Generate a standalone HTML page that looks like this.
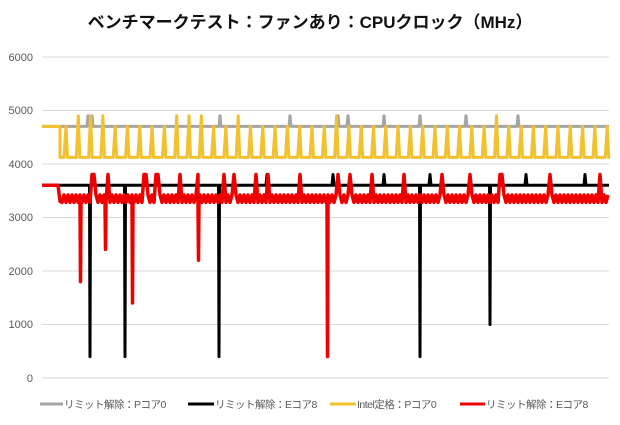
<!DOCTYPE html>
<html><head><meta charset="utf-8"><style>
body{margin:0;background:#fff;width:620px;height:420px;overflow:hidden;font-family:"Liberation Sans","Noto Sans CJK JP",sans-serif}
</style></head><body>
<svg id="s" width="620" height="420" xmlns="http://www.w3.org/2000/svg">
<text x="310" y="28" text-anchor="middle" font-size="17" font-weight="bold" fill="#111" font-family="Liberation Sans,Noto Sans CJK JP,sans-serif">ベンチマークテスト：ファンあり：CPUクロック（MHz）</text>
<g stroke="#d9d9d9" stroke-width="1">
<line x1="42" x2="609" y1="57" y2="57"/><line x1="42" x2="609" y1="110.5" y2="110.5"/><line x1="42" x2="609" y1="164" y2="164"/><line x1="42" x2="609" y1="217.5" y2="217.5"/><line x1="42" x2="609" y1="271" y2="271"/><line x1="42" x2="609" y1="324.5" y2="324.5"/><line x1="42" x2="609" y1="378" y2="378"/>
</g>
<g font-size="11" fill="#595959" text-anchor="end">
<text x="33" y="61">6000</text><text x="33" y="114">5000</text><text x="33" y="168">4000</text><text x="33" y="221">3000</text><text x="33" y="275">2000</text><text x="33" y="328">1000</text><text x="33" y="382">0</text>
</g>
<g id="series" fill="none" stroke-width="3" stroke-linejoin="round"></g>
<g font-size="10.5" fill="#595959" letter-spacing="-0.5">
<line x1="40" x2="63" y1="404" y2="404" stroke="#a5a5a5" stroke-width="3"/><text x="64" y="408">リミット解除：Pコア0</text>
<line x1="188" x2="214" y1="404" y2="404" stroke="#000" stroke-width="3"/><text x="215" y="408">リミット解除：Eコア8</text>
<line x1="330" x2="356" y1="404" y2="404" stroke="#f2c12e" stroke-width="3"/><text x="357" y="408">Intel定格：Pコア0</text>
<line x1="460" x2="485" y1="404" y2="404" stroke="#e00" stroke-width="3"/><text x="486" y="408">リミット解除：Eコア8</text>
</g>
</svg>
<script>
function Y(v){return 378-v*0.05354;}
var g=document.getElementById('series');
function add(pts,c,w){var p=document.createElementNS('http://www.w3.org/2000/svg','polyline');p.setAttribute('points',pts.map(function(a){return a[0].toFixed(1)+','+Y(a[1]).toFixed(1)}).join(' '));p.setAttribute('stroke',c);if(w)p.setAttribute('stroke-width',w);g.appendChild(p);}
var gr=[[42,4700]],gs=[88,92,220,290,338,348,384,420,466,518];
for(var x=44;x<=609;x+=1){var v=4700;gs.forEach(function(s){if(Math.abs(x-s)<1)v=4900;});gr.push([x,v]);}
add(gr,'#a5a5a5');
var bk=[[42,3600]];var dips={90:400,125:400,219:400,420:400,490:1000};var bsp=[267,333,384,430,526,585];
for(var x=44;x<=609;x+=1){var v=3600;if(dips[x]!==undefined){bk.push([x-0.5,3600]);bk.push([x,dips[x]]);bk.push([x+0.5,3600]);continue;}bsp.forEach(function(s){if(x==s)v=3800;});bk.push([x,v]);}
add(bk,'#000');
var ye=[[42,4700],[60,4700],[60,4120]];var ysp=[80,93,106,172,186,200,238,330,493];
for(var x=64;x<=609;x+=12.3){ye.push([x,4120]);var t=4700;ysp.forEach(function(s){if(Math.abs(x-s)<6)t=4900;});ye.push([x+2,t]);ye.push([x+3.5,4120]);}
ye.push([609,4150]);
add(ye,'#f2c12e');
var re=[[42,3600],[58,3600],[60,3300]];var rd={80:1800,105:2400,132:1400,198:2200,327:400};var rsp=[93,108,145,157,180,198,224,234,256,268,300,338,350,372,404,442,470,501,550,600];
for(var x=62;x<=609;x+=2){var v=(x%4==2)?3280:3420;re.push([x,v]);}
for(var k in rd){k=+k;re.push([k,3300]);}
re.sort(function(a,b){return a[0]-b[0]});
var out=[];re.forEach(function(p){var x=p[0];if(rd[Math.round(x)]!==undefined&&p[1]==3300){out.push([x,3300],[x+0.5,rd[Math.round(x)]],[x+1,3300]);}else{var sp=false;rsp.forEach(function(s){if(Math.abs(x-s)<1.5)sp=true;});out.push([x,sp?3800:p[1]]);}});
add(out,'#e00',3.5);
</script>
</body></html>
